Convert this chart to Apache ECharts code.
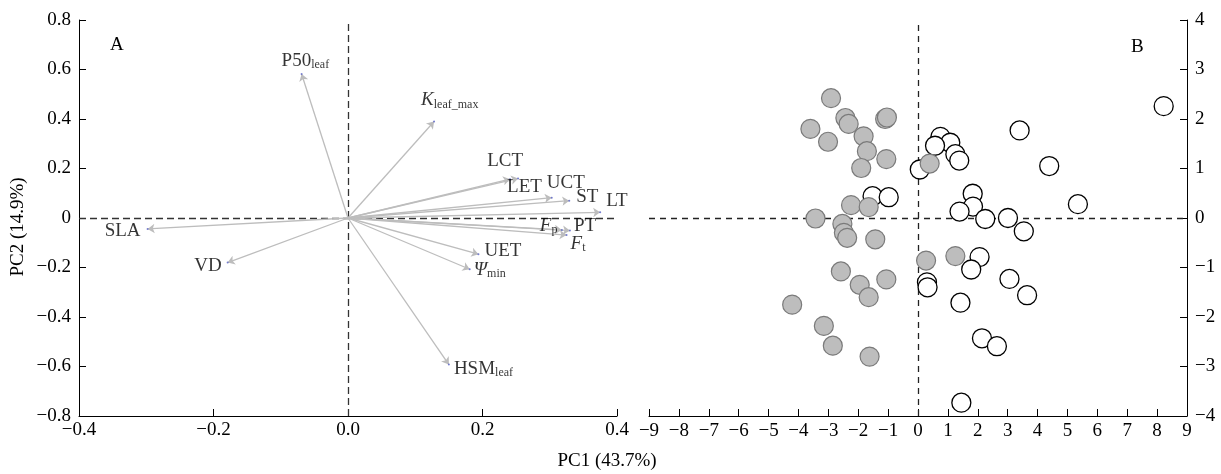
<!DOCTYPE html>
<html><head><meta charset="utf-8">
<script src="https://cdn.jsdelivr.net/npm/echarts@6/dist/echarts.min.js"></script>
<style>html,body{margin:0;padding:0;background:#fff}#c{width:1221px;height:474px}</style>
</head><body><div id="c"></div>
<script>
// ---- Panel A: PCA loadings ----
const loadingNames = ['P50leaf','Kleaf_max','LCT','LET','UCT','ST','LT','Fp','PT','Ft','UET','Psimin','HSMleaf','VD','SLA'];
const loadingX = [-0.069, 0.128, 0.253, 0.241, 0.303, 0.329, 0.375, 0.318, 0.330, 0.325, 0.194, 0.181, 0.150, -0.179, -0.298];
const loadingY = [0.582, 0.390, 0.160, 0.157, 0.082, 0.070, 0.023, -0.048, -0.051, -0.069, -0.146, -0.207, -0.592, -0.180, -0.044];
const loadingText = ['{n|P50}{s|leaf}','{i|K}{s|leaf_max}','LCT','LET','UCT','ST','LT','{i|F}{s|p}','PT','{i|F}{s|t}','UET','{i|Ψ}{s|min}','{n|HSM}{s|leaf}','VD','SLA'];

// ---- Panel B: PCA scores ----
const openX = [8.22, 3.40, 4.39, 5.35, 0.75, 1.08, 0.57, 1.25, 1.38, 0.06, 1.83, 1.84, 1.39, 2.25, 3.01, 3.54, 2.06, 1.78, 0.30, 0.32, 3.06, 3.65, 1.42, 2.14, 2.64, 1.45, -1.52, -0.98];
const openY = [2.26, 1.77, 1.05, 0.28, 1.64, 1.52, 1.46, 1.29, 1.16, 0.98, 0.49, 0.23, 0.13, -0.02, 0.00, -0.27, -0.79, -1.04, -1.30, -1.40, -1.23, -1.56, -1.71, -2.43, -2.59, -3.73, 0.44, 0.42];
const filledX = [-2.91, -2.43, -2.32, -1.10, -1.04, -3.60, -3.01, -1.82, -1.71, -1.06, -1.90, 0.39, -2.24, -1.65, -3.43, -2.53, -2.48, -2.37, -1.43, 0.27, 1.25, -2.58, -1.06, -1.95, -1.65, -4.21, -3.15, -2.85, -1.62];
const filledY = [2.42, 2.02, 1.90, 2.00, 2.03, 1.80, 1.54, 1.65, 1.35, 1.19, 1.01, 1.10, 0.26, 0.22, -0.01, -0.12, -0.30, -0.40, -0.43, -0.86, -0.77, -1.08, -1.24, -1.35, -1.60, -1.75, -2.18, -2.58, -2.80];

// ---- tick labels ----
const aXTicks = ['\u22120.4','\u22120.2','0.0','0.2','0.4'];
const aYTicks = ['\u22120.8','\u22120.6','\u22120.4','\u22120.2','0','0.2','0.4','0.6','0.8'];
const bXTicks = ['\u22129','\u22128','\u22127','\u22126','\u22125','\u22124','\u22123','\u22122','\u22121','0','1','2','3','4','5','6','7','8','9'];
const bYTicks = ['\u22124','\u22123','\u22122','\u22121','0','1','2','3','4'];

// label placement (pixel offsets from arrow tip) – style only
const labelPlace = {
  P50leaf:[-19,-12,'left'], Kleaf_max:[-12,-20,'left'], LCT:[-30,-16,'left'], LET:[-2,9,'left'],
  UCT:[-4,-14,'left'], ST:[8,-3,'left'], LT:[7,-10,'left'], Fp:[-21,-3,'left'], PT:[5,-4,'left'],
  Ft:[5,10,'left'], UET:[7,-2,'left'], Psimin:[5,2,'left'], HSMleaf:[6,5,'left'], VD:[-5,4,'right'], SLA:[-6,3,'right']
};

const FONT = 'Liberation Serif';
const chart = echarts.init(document.getElementById('c'), null, {renderer:'canvas'});

function axisCommon(labels, min, step, extra) {
  return Object.assign({
    type:'value', min: min, max: min + step*(labels.length-1), interval: step,
    axisLine:{show:true, onZero:false, lineStyle:{color:'#000', width:1}},
    axisTick:{show:true, inside:true, length:7, lineStyle:{color:'#000', width:1}},
    splitLine:{show:false}
  }, extra);
}

const arrowData = loadingX.map((x,i)=>({coords:[[0,0],[x, loadingY[i]]]}));
const tipData = loadingX.map((x,i)=>{
  const p = labelPlace[loadingNames[i]];
  return {value:[x, loadingY[i]], label:{show:true, position:[p[0],p[1]], align:p[2], verticalAlign:'middle', formatter: loadingText[i]}};
});

const richStyle = {
  n:{fontFamily:FONT, fontSize:19, color:'#000', lineHeight:20},
  i:{fontFamily:FONT, fontSize:19, fontStyle:'italic', color:'#000', lineHeight:20},
  s:{fontFamily:FONT, fontSize:12, color:'#000', lineHeight:8, verticalAlign:'bottom'}
};

const lbl = (labels, fn, margin) => ({color:'#000', fontFamily:FONT, fontSize:19, margin:margin, formatter: v => labels[fn(v)]});

chart.setOption({
  animation:false,
  backgroundColor:'#fff',
  grid:[{left:79, top:20, width:538, height:396}, {left:649, top:20, width:538, height:396}],
  xAxis:[
    axisCommon(aXTicks, -0.4, 0.2, {gridIndex:0, axisLabel: lbl(aXTicks, v=>Math.round((v+0.4)/0.2), 5)}),
    axisCommon(bXTicks, -9, 1, {gridIndex:1, axisLabel: lbl(bXTicks, v=>Math.round(v+9), 6)})
  ],
  yAxis:[
    axisCommon(aYTicks, -0.8, 0.2, {gridIndex:0, axisLabel: lbl(aYTicks, v=>Math.round((v+0.8)/0.2), 8)}),
    axisCommon(bYTicks, -4, 1, {gridIndex:1, position:'right', axisLabel: lbl(bYTicks, v=>Math.round(v+4), 8)})
  ],
  graphic:[
    {type:'text', left:110, top:36, style:{text:'A', font:'19px "Liberation Serif"', fill:'#000'}},
    {type:'text', left:1131, top:38, style:{text:'B', font:'19px "Liberation Serif"', fill:'#000'}},
    {type:'text', x:607, y:461, style:{text:'PC1 (43.7%)', font:'19px "Liberation Serif"', fill:'#000', align:'center', verticalAlign:'middle'}},
    {type:'text', x:18, y:227, rotation:Math.PI/2, style:{text:'PC2 (14.9%)', font:'19px "Liberation Serif"', fill:'#000', align:'center', verticalAlign:'middle'}}
  ],
  series:[
    {type:'lines', coordinateSystem:'cartesian2d', xAxisIndex:0, yAxisIndex:0, silent:true, symbol:'none',
      lineStyle:{color:'#333', width:1.3, type:[7,4], opacity:1}, data:[{coords:[[0,-0.8],[0,0.8]]},{coords:[[-0.4,0],[0.4,0]]}]},
    {type:'lines', coordinateSystem:'cartesian2d', xAxisIndex:0, yAxisIndex:0, silent:true,
      symbol:['none','arrow'], symbolSize:7,
      lineStyle:{color:'#bdbdbd', width:1.3, opacity:1}, data: arrowData},
    {type:'scatter', xAxisIndex:0, yAxisIndex:0, symbol:'circle', symbolSize:2, silent:true,
      itemStyle:{color:'#5a64c8'}, label:{show:true, rich:richStyle, fontFamily:FONT, fontSize:19, color:'#000'},
      data: tipData},
    {type:'lines', coordinateSystem:'cartesian2d', xAxisIndex:1, yAxisIndex:1, silent:true, symbol:'none',
      lineStyle:{color:'#222', width:1.3, type:[6,5], opacity:1}, data:[{coords:[[0,-4],[0,4]]},{coords:[[-9,0],[9,0]]}]},
    {type:'scatter', xAxisIndex:1, yAxisIndex:1, symbol:'circle', symbolSize:19, silent:true,
      itemStyle:{color:'#fff', borderColor:'#000', borderWidth:1.3, opacity:1},
      data: openX.map((x,i)=>[x, openY[i]])},
    {type:'scatter', xAxisIndex:1, yAxisIndex:1, symbol:'circle', symbolSize:19, silent:true,
      itemStyle:{color:'#bdbdbd', borderColor:'#7a7a7a', borderWidth:1.2, opacity:1},
      data: filledX.map((x,i)=>[x, filledY[i]])}
  ]
});
</script></body></html>
